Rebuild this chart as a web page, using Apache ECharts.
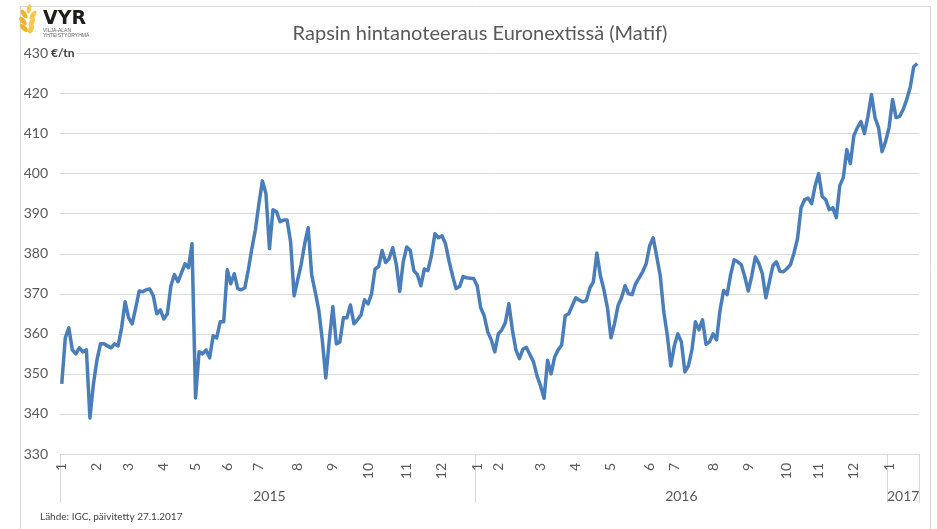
<!DOCTYPE html>
<html>
<head>
<meta charset="utf-8">
<title>Rapsin hintanoteeraus</title>
<script src="https://cdn.jsdelivr.net/npm/echarts@6/dist/echarts.min.js"></script>
<style>
  html, body { margin: 0; padding: 0; background: #fff; }
  #chart { width: 937px; height: 529px; }
</style>
</head>
<body>
<div id="chart"></div>
<script>
// Years and month labels of the category axis
var years = ['2015', '2016', '2017'];
var monthLabels = ['1', '2', '3', '4', '5', '6', '7', '8', '9', '10', '11', '12'];

// Price (€/tn), one sub-array per month
var price2015 = [
  [347.5, 359, 361.5, 356, 355, 356.5, 355.5, 356, 339, 347.5],
  [353.5, 357.5, 357.5, 357, 356.5, 357.5, 357, 361.5, 368],
  [364, 362.5, 366.5, 370.7, 370.5, 371, 371.2, 369.5, 365, 366],
  [363.7, 365, 372, 374.8, 373, 375.2, 377.5, 376.5, 382.5],
  [344, 355.5, 355, 356, 354, 359.5, 359, 363, 363],
  [376, 372.5, 375, 371.3, 371, 371.5, 376, 381.3, 386],
  [392.5, 398.2, 395, 381.3, 391, 390.5, 388, 388.4, 388.4, 383, 369.5],
  [373.5, 377.3, 382.5, 386.5, 374.6, 370.5, 366, 358.5, 349, 358.5],
  [366.8, 357.5, 358, 364, 364, 367.2, 362.5, 363.5, 364.7, 368.5],
  [367.5, 370, 376.2, 376.8, 380.8, 377.8, 378.8, 381.5, 377.5, 370.6, 378],
  [381.7, 380.8, 375.8, 374.8, 372, 376.2, 375.8, 379.5, 385, 384],
  [384.5, 382.5, 378.2, 374.5, 371.3, 371.8, 374.3, 374, 373.9, 373.8]
];
var price2016 = [
  [372, 366.5, 364.5, 360.5, 358.5, 355.5],
  [360, 361, 362.8, 367.5, 361, 356, 353.8, 356.2, 356.6, 354.8, 353, 349.5],
  [347, 343.9, 353.4, 350, 354.2, 356, 357.2, 364.5, 365, 367],
  [369, 368.4, 368, 368.3, 371.4, 373, 380.2, 374.5, 371, 366.5],
  [359, 362.5, 367, 369, 372, 370, 369.8, 372.5, 374, 375.5, 377.5],
  [382, 384, 379.3, 374.5, 365.5, 359.7, 352],
  [357, 360, 358, 350.5, 352, 356, 363, 361, 363.5, 357.4, 358],
  [360, 358.5, 366, 370.8, 369.8, 374.8, 378.5, 378, 377.3, 374.3],
  [370.7, 374.5, 379.2, 377.6, 375, 369, 373, 377, 378, 375.6, 375.5],
  [376.3, 377.3, 380.2, 383.8, 391.5, 393.5, 393.9, 392.5, 397],
  [400, 394.3, 393.5, 391, 391.5, 389, 397, 399, 406, 402.5],
  [409.5, 411.5, 413, 410, 414.3, 419.75, 414, 411.5, 405.5, 408]
];
var price2017 = [
  [411.5, 418.5, 414, 414.3, 416, 418.5, 421.5, 426.7, 427.5]
];

var textColor = '#595959';
var gridColor = '#d9d9d9';
var fontFamily = 'Lato, "Open Sans", sans-serif';

function initChart() {
  var categories = [];
  var values = [];
  var monthAt = {};
  var yearStart = {};
  var yearMid = {};

  [price2015, price2016, price2017].forEach(function(months, yi) {
    var start = values.length;
    yearStart[start] = true;
    months.forEach(function(m, mi) {
      monthAt[values.length] = monthLabels[mi];
      m.forEach(function(v, j) {
        categories.push(years[yi] + '-' + monthLabels[mi] + '-' + j);
        values.push(v);
      });
    });
    yearMid[Math.round((start + values.length - 1) / 2)] = years[yi];
  });

  var chart = echarts.init(document.getElementById('chart'));

  // VYR logo (wheat ear + text)
  var wheat = [
    [29, 9, 2.2, 4.5, -0.2], [24, 14, 2.4, 5, 0.6], [33, 15, 2.4, 5, -0.6],
    [23, 21, 2.5, 5, 0.7], [32, 22, 2.5, 5, -0.5], [24, 28, 2.5, 5, 0.8],
    [31, 29, 2.5, 5, -0.4]
  ];
  var logo = wheat.map(function(w, i) {
    return {
      type: 'ellipse',
      x: w[0], y: w[1], rotation: w[4],
      shape: {cx: 0, cy: 0, rx: w[2], ry: w[3]},
      style: {fill: i % 2 ? '#f0b323' : '#f6c84a'},
      silent: true
    };
  });
  logo.push(
    {type: 'text', left: 43, top: 10,
      style: {text: 'VYR', font: 'bold 19px "DejaVu Sans", sans-serif', fill: '#1d1d1b'}},
    {type: 'text', left: 43, top: 28,
      style: {text: 'VILJA-ALAN', font: '5px sans-serif', fill: '#666'}},
    {type: 'text', left: 43, top: 33,
      style: {text: 'YHTEISTYÖRYHMÄ', font: '5px sans-serif', fill: '#666'}}
  );

  chart.setOption({
    animation: false,
    backgroundColor: '#fff',
    textStyle: {fontFamily: fontFamily},
    title: {
      text: 'Rapsin hintanoteeraus Euronextissä (Matif)',
      left: 475,
      top: 19,
      textAlign: 'center',
      textStyle: {fontSize: 20, fontWeight: 'normal', color: textColor, fontFamily: fontFamily}
    },
    grid: {left: 60, right: 18, top: 53.5, bottom: 75},
    xAxis: [
      {
        type: 'category',
        data: categories,
        boundaryGap: true,
        axisLine: {lineStyle: {color: gridColor}},
        axisTick: {show: false},
        axisLabel: {
          rotate: 90,
          margin: 9,
          fontSize: 14,
          color: textColor,
          interval: function(idx) { return monthAt[idx] !== undefined; },
          formatter: function(val, idx) { return monthAt[idx] || ''; }
        },
        splitLine: {show: false}
      },
      {
        type: 'category',
        data: categories,
        boundaryGap: true,
        position: 'bottom',
        axisLine: {show: false},
        axisTick: {
          show: true,
          length: 49,
          lineStyle: {color: gridColor},
          interval: function(idx) { return yearStart[idx] === true; }
        },
        axisLabel: {
          margin: 35,
          fontSize: 14,
          color: textColor,
          interval: function(idx) { return yearMid[idx] !== undefined; },
          formatter: function(val, idx) { return yearMid[idx] || ''; }
        },
        splitLine: {show: false}
      }
    ],
    yAxis: {
      type: 'value',
      min: 330,
      max: 430,
      interval: 10,
      axisLine: {show: false},
      axisTick: {show: false},
      axisLabel: {fontSize: 14, color: textColor, margin: 12},
      splitLine: {lineStyle: {color: gridColor, width: 1}}
    },
    series: [
      {
        type: 'line',
        data: values,
        showSymbol: false,
        lineStyle: {color: '#4a7ebb', width: 3.5, join: 'round'},
        itemStyle: {color: '#4a7ebb'}
      }
    ],
    graphic: [
      {
        type: 'rect',
        shape: {x: 20.5, y: 6.5, width: 910, height: 540},
        style: {fill: 'none', stroke: gridColor, lineWidth: 1},
        silent: true,
        z: -1
      },
      {
        type: 'text',
        left: 51,
        top: 46,
        z: 100,
        style: {
          text: '€/tn', font: 'bold 12px ' + fontFamily, fill: '#404040',
          backgroundColor: '#fff', padding: [1, 2, 1, 0]
        }
      },
      {
        type: 'text',
        left: 40,
        top: 512,
        style: {text: 'Lähde: IGC, päivitetty 27.1.2017', font: '10px ' + fontFamily, fill: '#404040'}
      }
    ].concat(logo)
  });
}

initChart();
</script>
</body>
</html>
